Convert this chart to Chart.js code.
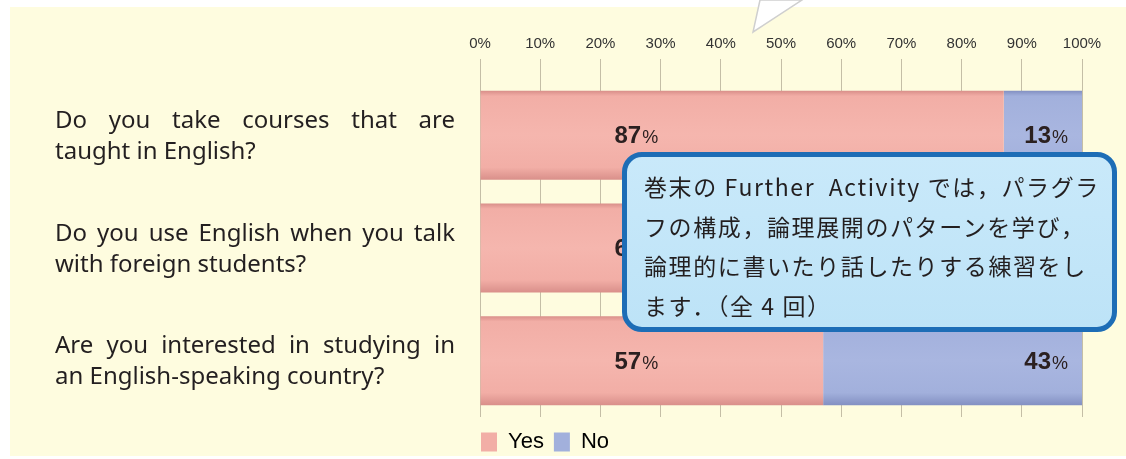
<!DOCTYPE html>
<html>
<head>
<meta charset="utf-8">
<script src="https://cdn.jsdelivr.net/npm/chart.js@4/dist/chart.umd.min.js"></script>
<style>
  html, body { margin: 0; padding: 0; background: #fff; }
  #wrap { position: relative; width: 1126px; height: 459px; overflow: hidden; }
  #panel { position: absolute; left: 10px; top: 7px; right: 0; bottom: 3px; background: #fefcdf; }
  #chart { position: absolute; left: 0; top: 0; }
  #tail { position: absolute; left: 740px; top: -2px; }
  #note {
    position: absolute; left: 622px; top: 152px; width: 495px; height: 180px;
    box-sizing: border-box; border: 5px solid #1d6db6; border-radius: 20px;
    background: linear-gradient(#c9e9fa, #bde3f7);
    font-family: "Noto Sans CJK JP", sans-serif; font-size: 23px; color: #231f20;
    line-height: 39.5px; letter-spacing: 1.6px; padding: 10px 0 0 17px; white-space: nowrap;
  }
</style>
</head>
<body>
<div id="wrap">
  <div id="panel"></div>
  <svg id="tail" width="70" height="40">
    <polygon points="20,2 62,2 13,34" fill="#ffffff" stroke="#cfcfcf" stroke-width="1.5"/>
  </svg>
  <canvas id="chart" width="1126" height="459"></canvas>
  <div id="note">巻末の Further&nbsp; Activity では，パラグラ<br>フの構成，論理展開のパターンを学び，<br>論理的に書いたり話したりする練習をし<br>ます．（全 4 回）</div>
</div>
<script>
// survey questions (two lines each)
const questions = [
  ['Do you take courses that are', 'taught in English?'],
  ['Do you use English when you talk', 'with foreign students?'],
  ['Are you interested in studying in', 'an English-speaking country?']
];
const yesValues = [87, 66, 57];
const noValues = [13, 34, 43];
const seriesNames = ['Yes', 'No'];
const tickValues = [0, 10, 20, 30, 40, 50, 60, 70, 80, 90, 100];

const textColor = '#231f20';
const labelFont = '"Noto Sans", "Liberation Sans", Arial, sans-serif';

// vertical shading for each bar, like the printed 3D look
function barFill(light, mid, dark) {
  return (ctx) => {
    const chart = ctx.chart;
    const y = chart.scales.y;
    if (!y || ctx.dataIndex === undefined) return mid;
    const c = y.getPixelForValue(ctx.dataIndex);
    const half = y.height / questions.length * 0.79 / 2;
    const g = chart.ctx.createLinearGradient(0, c - half, 0, c + half);
    g.addColorStop(0, dark);
    g.addColorStop(0.06, mid);
    g.addColorStop(0.5, light);
    g.addColorStop(0.86, mid);
    g.addColorStop(1, dark);
    return g;
  };
}

// question text on the left, first line justified
const questionLabels = {
  id: 'questionLabels',
  afterDraw(chart) {
    const ctx = chart.ctx;
    const y = chart.scales.y;
    const left = 55, width = 400, lh = 31;
    ctx.save();
    ctx.font = '24px ' + labelFont;
    ctx.fillStyle = textColor;
    ctx.textBaseline = 'alphabetic';
    ctx.textAlign = 'left';
    questions.forEach((lines, i) => {
      const c = y.getPixelForValue(i);
      lines.forEach((line, j) => {
        const base = c - lh / 2 + j * lh + 8;
        if (j === 0) {
          const words = line.split(' ');
          const w = words.reduce((s, t) => s + ctx.measureText(t).width, 0);
          const gap = (width - w) / (words.length - 1);
          let x = left;
          words.forEach((t) => {
            ctx.fillText(t, x, base);
            x += ctx.measureText(t).width + gap;
          });
        } else {
          ctx.fillText(line, left, base);
        }
      });
    });
    ctx.restore();
  }
};

// percentage labels inside the bars
const valueLabels = {
  id: 'valueLabels',
  afterDatasetsDraw(chart) {
    const ctx = chart.ctx;
    const numFont = 'bold 24px "Liberation Sans", Arial, sans-serif';
    const pctFont = '18px "Liberation Sans", Arial, sans-serif';
    ctx.save();
    ctx.fillStyle = '#2b2020';
    ctx.textBaseline = 'alphabetic';
    ctx.textAlign = 'left';
    chart.data.datasets.forEach((ds, di) => {
      chart.getDatasetMeta(di).data.forEach((bar, i) => {
        const num = String(ds.data[i]);
        ctx.font = numFont;
        const wn = ctx.measureText(num).width;
        ctx.font = pctFont;
        const wp = ctx.measureText('%').width;
        const x = di === 0 ? bar.base + 134 : bar.x - 15 - wn - wp;
        const base = bar.y + 8;
        ctx.font = numFont;
        ctx.fillText(num, x, base);
        ctx.font = pctFont;
        ctx.fillText('%', x + wn + 1, base);
      });
    });
    ctx.restore();
  }
};

// legend sits a bit left of the plot edge and a bit lower
const legendNudge = {
  id: 'legendNudge',
  afterLayout(chart) {
    const l = chart.legend;
    l.left -= 9; l.right -= 9;
    l.top += 4; l.bottom += 4;
  }
};

new Chart(document.getElementById('chart'), {
  type: 'bar',
  data: {
    labels: questions.map(q => q.join(' ')),
    datasets: [
      {
        label: seriesNames[0],
        data: yesValues,
        backgroundColor: barFill('#f5b6ae', '#f2aea6', '#d98f8a'),
        categoryPercentage: 1,
        barPercentage: 0.79
      },
      {
        label: seriesNames[1],
        data: noValues,
        backgroundColor: barFill('#a9b6e0', '#a2b0dc', '#8390c2'),
        categoryPercentage: 1,
        barPercentage: 0.79
      }
    ]
  },
  options: {
    indexAxis: 'y',
    responsive: false,
    animation: false,
    layout: { padding: { left: 480, right: 44, top: 29, bottom: 0 } },
    scales: {
      x: {
        position: 'top',
        stacked: true,
        min: 0,
        max: 100,
        afterBuildTicks(scale) {
          scale.ticks = tickValues.map(v => ({ value: v }));
        },
        ticks: {
          callback: (v) => v + '%',
          color: '#333',
          padding: 6,
          font: { family: '"Liberation Sans", Arial, sans-serif', size: 15 }
        },
        grid: { color: '#c4bea6', lineWidth: 1, tickLength: 20, drawTicks: true },
        border: { display: false }
      },
      y: {
        stacked: true,
        display: false
      }
    },
    plugins: {
      legend: {
        position: 'bottom',
        align: 'start',
        fullSize: false,
        labels: {
          boxWidth: 16,
          boxHeight: 19,
          padding: 10,
          color: textColor,
          font: { family: '"Liberation Sans", Arial, sans-serif', size: 22 },
          generateLabels: (chart) => chart.data.datasets.map((ds, i) => ({
            text: ds.label,
            fillStyle: i === 0 ? '#f2aea6' : '#a2b0dc',
            strokeStyle: 'rgba(0,0,0,0)',
            lineWidth: 0,
            datasetIndex: i
          }))
        }
      },
      tooltip: { enabled: false }
    }
  },
  plugins: [questionLabels, valueLabels, legendNudge]
});
</script>
</body>
</html>
